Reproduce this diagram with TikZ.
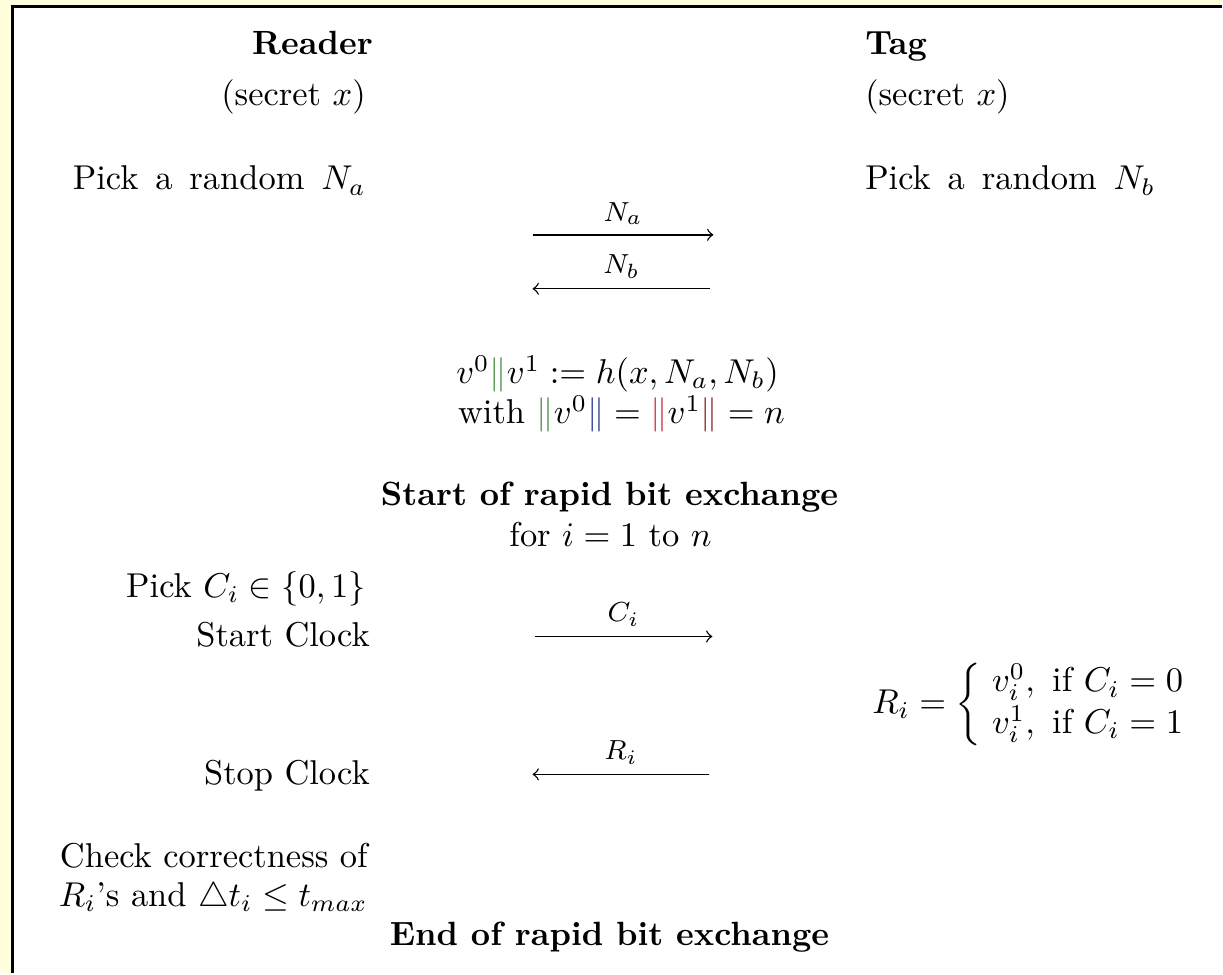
\documentclass[tikz,border=0pt]{standalone}
\usepackage{amsmath}
\usepackage{amssymb}
\definecolor{bgyellow}{RGB}{255,255,222}
\definecolor{bargreen}{RGB}{80,150,80}
\definecolor{barblue}{RGB}{50,70,150}
\definecolor{barred}{RGB}{200,60,70}
\definecolor{bardred}{RGB}{140,50,50}
\newcommand{\wsp}{\hspace{4.9pt}}
\begin{document}
\begin{tikzpicture}[x=0.29pt,y=-0.29pt,
  every node/.style={inner sep=0pt, outer sep=0pt, font=\fontsize{10}{12.5}\selectfont},
  boldtxt/.style={font=\fontsize{9.75}{12}\selectfont\bfseries},
  msg/.style={->, thin},
  lbl/.style={above=3pt, font=\footnotesize}]
\fill[bgyellow] (0,0) rectangle (1223,974);
\fill[white] (13,7) rectangle (1223,974);
\draw[line width=0.6pt] (12.5,974) -- (12.5,6.5) -- (1223,6.5);
\useasboundingbox (0,0) rectangle (1223,974);

% Reader column
\node[anchor=base east, boldtxt] (reader) at (373,55) {Reader};
\node[anchor=base east] (rsecret) at (366,106) {(secret $x$)};
\node[anchor=base east] (rpick) at (366,190) {Pick\wsp a\wsp random\wsp$N_a$};
\node[anchor=base east] (pickc) at (366,598) {Pick $C_i\in\{0,1\}$};
\node[anchor=base east] (startclk) at (370,647) {Start Clock};
\node[anchor=base east] (stopclk) at (370,785) {Stop Clock};
\node[anchor=base east, align=right, font=\fontsize{10}{11.3}\selectfont] (check) at (368,907) {Check correctness of\\$R_i$'s and $\triangle t_i\le t_{max}$};

% Tag column
\node[anchor=base west, boldtxt] (tag) at (866,55) {Tag};
\node[anchor=base west] (tsecret) at (866,106) {(secret $x$)};
\node[anchor=base west] (tpick) at (866,190) {Pick\wsp a\wsp random\wsp$N_b$};
\node[anchor=west] (resp) at (873,705) {\renewcommand{\arraystretch}{0.97}\setlength{\arraycolsep}{3pt}$R_i=\left\{\begin{array}{l}v_i^0,\mbox{ if }C_i=0\\ v_i^1,\mbox{ if }C_i=1\end{array}\right.$};

% middle
\node[anchor=base] (hash) at (618,384) {$v^0{\color{bargreen}\|}v^1:=h(x,N_a,N_b)$};
\node[anchor=base] (with) at (622,424) {with ${\color{bargreen}\|}v^0{\color{barblue}\|}={\color{barred}\|}v^1{\color{bardred}\|}=n$};
\node[anchor=base, boldtxt] (start) at (610,506) {Start of rapid bit exchange};
\node[anchor=base] (fori) at (611,547) {for $i=1$ to $n$};
\node[anchor=base, boldtxt] (endx) at (610,946) {End of rapid bit exchange};

% messages
\coordinate (naL) at (533,235); \coordinate (naR) at (714,235);
\coordinate (nbL) at (533,289); \coordinate (nbR) at (711,289);
\coordinate (ciL) at (535,637); \coordinate (ciR) at (713,637);
\coordinate (riL) at (533,775); \coordinate (riR) at (710,775);
\draw[msg] (naL) -- node[lbl] (lna) {$N_a$} (naR);
\draw[msg] (nbR) -- node[lbl] (lnb) {$N_b$} (nbL);
\draw[msg] (ciL) -- node[lbl] (lci) {$C_i$} (ciR);
\draw[msg] (riR) -- node[lbl] (lri) {$R_i$} (riL);
\end{tikzpicture}
\end{document}
